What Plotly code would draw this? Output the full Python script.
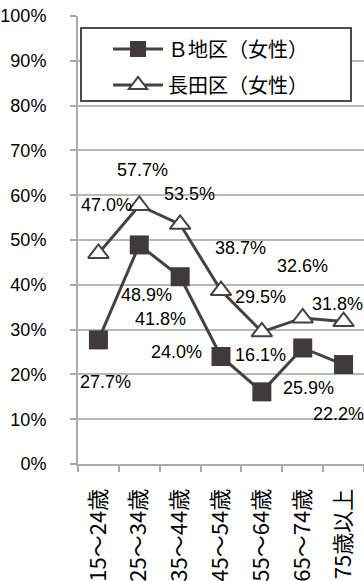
import plotly.graph_objects as go

# Age bands and share (%) for each district
age_groups = ["15～24歳", "25～34歳", "35～44歳", "45～54歳", "55～64歳", "65～74歳", "75歳以上"]
b_district = [27.7, 48.9, 41.8, 24.0, 16.1, 25.9, 22.2]
nagata = [47.0, 57.7, 53.5, 38.7, 29.5, 32.6, 31.8]

series_names = ["Ｂ地区（女性）", "長田区（女性）"]

# Pixel offsets for each value label (dx, dy with y upward)
b_label_offsets = [(7, -42), (7, -50), (-20, -42), (-45, 4), (-1, 37), (6, -40), (-5, -49)]
nagata_label_offsets = [(8, 48), (3, 36), (9, 30), (19, 43), (-1, 35), (0, 52), (-6, 18)]

LINE = "#454242"
NUM_FONT = "Liberation Sans"
JP_FONT = "Noto Sans CJK JP"

fig = go.Figure()
fig.add_trace(go.Scatter(
    x=age_groups, y=b_district, name=series_names[0], mode="lines+markers",
    line=dict(color=LINE, width=3),
    marker=dict(symbol="square", size=19, color="#403b3b", line=dict(width=0)),
    legendgroup="b",
))
fig.add_trace(go.Scatter(
    x=age_groups, y=nagata, name=series_names[1], mode="lines+markers",
    line=dict(color=LINE, width=3),
    marker=dict(symbol="triangle-up", size=18, color="white", line=dict(color=LINE, width=2)),
    legendgroup="n",
))

annotations = []
for vals, offs in ((b_district, b_label_offsets), (nagata, nagata_label_offsets)):
    for cat, v, (dx, dy) in zip(age_groups, vals, offs):
        annotations.append(dict(
            x=cat, y=v, text=f"{v:.1f}%", showarrow=False,
            xshift=dx, yshift=dy,
            font=dict(family=NUM_FONT, size=18, color="black"),
        ))

# Legend frame drawn as a white box behind the legend entries
legend_frame = dict(
    type="rect", xref="paper", yref="paper",
    x0=0.0105, x1=0.9545, y0=0.810, y1=0.973,
    fillcolor="white", line=dict(color="#4a4a4a", width=2), layer="above",
)

fig.update_layout(
    width=364, height=581,
    margin=dict(l=78, r=0, t=16, b=117),
    paper_bgcolor="white", plot_bgcolor="white",
    showlegend=True,
    legend=dict(
        x=0.105, y=0.970, xanchor="left", yanchor="top",
        bgcolor="rgba(0,0,0,0)", borderwidth=0,
        font=dict(family=JP_FONT, size=20, color="black"),
        tracegroupgap=7, traceorder="grouped",
        itemwidth=50,
    ),
    shapes=[legend_frame],
    annotations=annotations,
    xaxis=dict(
        type="category", tickson="boundaries", ticks="outside", ticklen=6,
        tickcolor="#aaaaaa", tickwidth=2,
        showline=True, linecolor="#aaaaaa", linewidth=2,
        showgrid=False, tickangle=-90,
        tickfont=dict(family=JP_FONT, size=22, color="black"),
        ticklabelstandoff=14,
        range=[-0.5, 6.5],
    ),
    yaxis=dict(
        range=[0, 100], dtick=10, ticksuffix="%",
        ticks="outside", ticklen=6, tickcolor="#aaaaaa", tickwidth=2,
        showline=True, linecolor="#aaaaaa", linewidth=2,
        showgrid=True, gridcolor="#b8b8b8", gridwidth=2,
        zeroline=False,
        ticklabelstandoff=20,
        tickfont=dict(family=NUM_FONT, size=18, color="black"),
    ),
)

fig.write_html("out.html")
